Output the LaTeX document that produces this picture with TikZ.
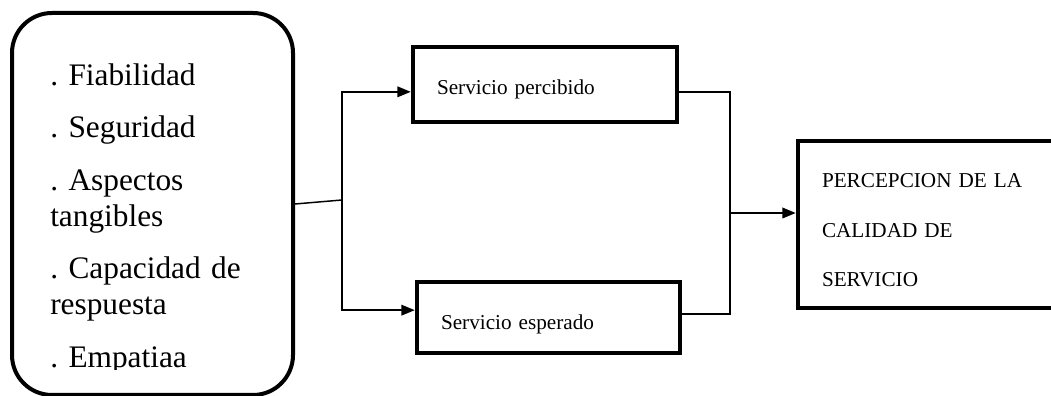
\documentclass[tikz,border=0pt]{standalone}
\usepackage{fontspec}
\setmainfont{Liberation Serif}
\usetikzlibrary{arrows.meta}

\begin{document}
\begin{tikzpicture}[x = .75pt, y = .75pt,
    box/.style = {draw, line width = 3.4pt, inner ysep = 0pt, inner xsep = 18pt, align = left},
    line/.style = {line width = 1.1pt},
    arrow/.style = {line width = 1.1pt, -{Triangle[length = 10pt, width = 8pt]}}]
    \clip (0, 0) rectangle (1051, 396);
    % boxes
    \node (dims) at (152.5, 192) [draw, line width = 3pt, rounded corners = 30pt,
      minimum width = 210.75pt, minimum height = 286.5pt] {};
    \begin{scope}
      \clip (0, 26) rectangle (300, 396);
      \node (list) at (50, 333) [anchor = north west, inner sep = 0pt, text width = 180pt, align = left,
        font = \fontsize{23.5}{27}\selectfont\frenchspacing]
        {. Fiabilidad\\[12.4pt]
         . Seguridad\\[12.4pt]
         . Aspectos\\ tangibles\\[12.4pt]
         . Capacidad de\\ respuesta\\[12.4pt]
         . Empatiaa};
    \end{scope}
    \node (percibido) at (545, 311.5) [box, minimum width = 198pt, minimum height = 56.25pt,
      text width = 162pt, text height = 15.75pt, text depth = 0pt,
      font = \fontsize{15.9}{19}\selectfont] {Servicio percibido};
    \node (esperado) at (548.5, 78.5) [box, minimum width = 197.25pt, minimum height = 53.25pt,
      text width = 161.25pt, text height = 18.75pt, text depth = 0pt,
      font = \fontsize{15.9}{19}\selectfont] {Servicio esperado};
    \node (calidad) at (948, 171.5) [box, minimum width = 225pt, minimum height = 125.25pt,
      text width = 189pt, text height = 11pt, text depth = 65.8pt,
      font = \fontsize{15.9}{37}\selectfont] {PERCEPCION DE LA\\ CALIDAD DE\\ SERVICIO};
    % connectors
    \coordinate (split) at (342, 196);
    \coordinate (join) at (730, 183);
    \draw [line] (dims.east) -- (split);
    \draw [arrow] (split) |- ([yshift = -5.5pt] percibido.west);
    \draw [arrow] (split) |- ([yshift = 5.5pt] esperado.west);
    \draw [line] ([yshift = -5.5pt] percibido.east) -| (join);
    \draw [line] ([yshift = 2.6pt] esperado.east) -| (join);
    \draw [arrow] (join) -- (join -| calidad.west);
\end{tikzpicture}
\end{document}
